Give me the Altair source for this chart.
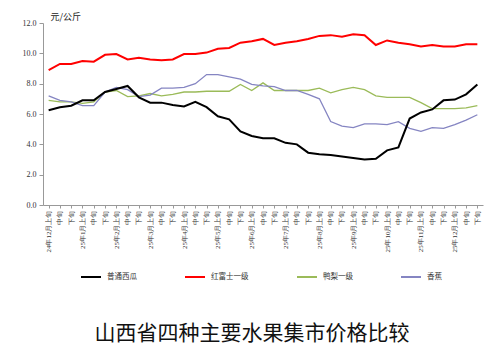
import altair as alt
import pandas as pd

months = ["24年12月"] + [f"25年{m}月" for m in range(1, 13)]
xun = ["上旬", "中旬", "下旬"]
periods = [m + x for m in months for x in xun]

watermelon = [6.25, 6.45, 6.55, 6.9, 6.9, 7.45, 7.65, 7.85, 7.1, 6.75, 6.75, 6.6, 6.5,
              6.8, 6.45, 5.85, 5.65, 4.85, 4.55, 4.4, 4.4, 4.1, 4.0, 3.45, 3.35, 3.3,
              3.2, 3.1, 3.0, 3.05, 3.6, 3.8, 5.7, 6.1, 6.3, 6.9, 6.95, 7.3, 7.95]
fuji = [8.9, 9.3, 9.3, 9.5, 9.45, 9.9, 9.95, 9.6, 9.7, 9.6, 9.55, 9.6, 9.95,
        9.95, 10.05, 10.3, 10.35, 10.7, 10.8, 10.95, 10.55, 10.7, 10.8, 10.95, 11.15, 11.2,
        11.1, 11.25, 11.2, 10.55, 10.85, 10.7, 10.6, 10.45, 10.55, 10.45, 10.45, 10.6, 10.6]
pear = [6.9, 6.8, 6.8, 6.7, 6.8, 7.45, 7.55, 7.15, 7.2, 7.35, 7.2, 7.3, 7.45,
        7.45, 7.5, 7.5, 7.5, 7.95, 7.55, 8.05, 7.55, 7.55, 7.55, 7.55, 7.7, 7.4,
        7.6, 7.75, 7.6, 7.2, 7.1, 7.1, 7.1, 6.75, 6.35, 6.35, 6.35, 6.4, 6.55]
banana = [7.2, 6.9, 6.8, 6.55, 6.55, 7.45, 7.75, 7.6, 7.15, 7.25, 7.7, 7.7, 7.75,
          8.0, 8.6, 8.6, 8.45, 8.3, 7.95, 7.85, 7.8, 7.55, 7.55, 7.3, 7.0, 5.5,
          5.2, 5.1, 5.35, 5.35, 5.3, 5.5, 5.05, 4.85, 5.1, 5.05, 5.3, 5.6, 5.95]

series_names = ["普通西瓜", "红富士一级", "鸭梨一级", "香蕉"]
series_vals = [watermelon, fuji, pear, banana]
colors = ["#000000", "#ff0000", "#9bbb59", "#8585c2"]
thick = ["普通西瓜", "红富士一级"]

rows = []
for name, vals in zip(series_names, series_vals):
    for p, v in zip(periods, vals):
        rows.append({"period": p, "kind": name, "price": v,
                     "thick": name in thick})
df = pd.DataFrame(rows)

serif = "Liberation Serif"

x_enc = alt.X("period:O", sort=periods,
              scale=alt.Scale(padding=0.5),
              axis=alt.Axis(title=None, labelAngle=-90,
                            labelExpr="indexof(datum.value, '上旬') >= 0 ? datum.value : substring(datum.value, length(datum.value) - 2)",
                            labelFont=serif, labelFontSize=7, labelColor="#333333",
                            labelPadding=2, tickSize=3, domainColor="#999999",
                            tickColor="#999999", labelOverlap=False))
y_enc = alt.Y("price:Q", scale=alt.Scale(domain=[0, 12]),
              axis=alt.Axis(values=[0, 2, 4, 6, 8, 10, 12], format=".1f", grid=False,
                            title="元/公斤", titleAngle=0, titleX=7, titleY=-2,
                            titleAlign="left", titleBaseline="bottom",
                            titleFont="Noto Sans CJK SC", titleFontSize=9,
                            titleFontWeight="normal", titleColor="#222222",
                            labelFont=serif, labelFontSize=8, labelColor="#333333",
                            tickSize=4, labelPadding=3, domainColor="#999999",
                            tickColor="#999999"))
c_enc = alt.Color("kind:N", scale=alt.Scale(domain=series_names, range=colors),
                  legend=alt.Legend(title=None, orient="none", legendX=37, legendY=243,
                                    direction="horizontal", columns=4,
                                    symbolType="stroke", symbolSize=400,
                                    symbolStrokeWidth=2, labelOffset=5,
                                    columnPadding=44, labelFont="Noto Sans CJK SC",
                                    labelFontSize=7.5, labelColor="#333333"))

base = alt.Chart(df).encode(x=x_enc, y=y_enc, color=c_enc)
thin_lines = base.transform_filter("!datum.thick").mark_line(strokeWidth=1.3)
thick_lines = base.transform_filter("datum.thick").mark_line(strokeWidth=2)

chart = alt.layer(thin_lines, thick_lines).properties(
    width=440, height=182,
    padding={"left": 43, "top": 23, "right": 12, "bottom": 150},
    autosize=alt.AutoSizeParams(type="none"),
    title=alt.TitleParams("山西省四种主要水果集市价格比较", orient="bottom",
                          font="Noto Sans CJK SC", fontSize=21, fontWeight="normal",
                          color="#111111", offset=42, anchor="middle", dx=-11),
).configure_view(stroke=None)

chart.save("out.html", embed_options={"renderer": "svg", "actions": False})
